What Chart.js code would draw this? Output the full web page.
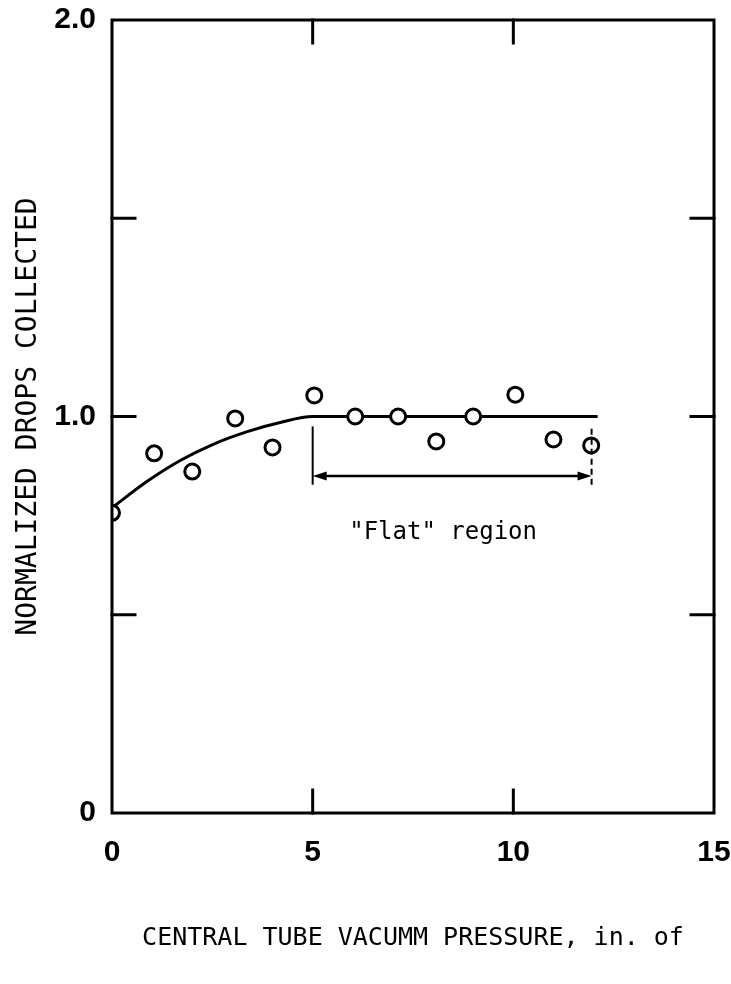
<!DOCTYPE html>
<html><head><meta charset="utf-8">
<script src="https://cdn.jsdelivr.net/npm/chart.js@4/dist/chart.umd.min.js"></script>
<style>html,body{margin:0;padding:0;background:#fff}#wrap{width:731px;height:984px}</style>
</head><body><div id="wrap"><canvas id="c" width="731" height="984"></canvas></div>
<script>
// measured data points
const pressureX = [0, 1.05, 2.0, 3.07, 4.0, 5.04, 6.06, 7.13, 8.08, 9.0, 10.05, 11.0, 11.94];
const dropsY    = [0.757, 0.907, 0.861, 0.995, 0.922, 1.053, 1.0, 1.0, 0.937, 1.0, 1.055, 0.942, 0.927];
// hand-drawn trend curve
const fitX = [0, 0.87, 1.7, 2.52, 3.37, 4.19, 5.0, 12.1];
const fitY = [0.77, 0.836, 0.889, 0.93, 0.962, 0.985, 1.0, 1.0];
// tick labels
const xTickLabels = {0: '0', 5: '5', 10: '10', 15: '15'};
const yTickLabels = {0: '0', 1: '1.0', 2: '2.0'};
const xInnerTicks = [5, 10];
const yInnerTicks = [0.5, 1.0, 1.5];
// "Flat" region annotation
const flatRange = [5, 11.95];
const flatArrowY = 0.85;
const flatBarY = [0.828, 0.975];
const flatLabel = '"Flat" region';
const flatLabelAt = [8.25, 0.707];
const xTitle = 'CENTRAL TUBE VACUMM PRESSURE, in. of';
const yTitle = 'NORMALIZED DROPS COLLECTED';

const pts = pressureX.map((v, i) => ({x: v, y: dropsY[i]}));
const fit = fitX.map((v, i) => ({x: v, y: fitY[i]}));

const decor = {
  id: 'decor',
  afterDatasetsDraw(chart) {
    const {ctx, chartArea: a, scales: {x, y}} = chart;
    const seg = (x1, y1, x2, y2) => { ctx.beginPath(); ctx.moveTo(x1, y1); ctx.lineTo(x2, y2); ctx.stroke(); };
    ctx.save();
    ctx.strokeStyle = '#000'; ctx.fillStyle = '#000';
    ctx.lineWidth = 3; ctx.lineCap = 'square';
    ctx.strokeRect(a.left, a.top, a.right - a.left, a.bottom - a.top);
    const tl = 23;
    xInnerTicks.forEach(v => { const p = x.getPixelForValue(v); seg(p, a.bottom, p, a.bottom - tl); seg(p, a.top, p, a.top + tl); });
    yInnerTicks.forEach(v => { const p = y.getPixelForValue(v); seg(a.left, p, a.left + tl, p); seg(a.right, p, a.right - tl, p); });
    // annotation
    ctx.lineWidth = 2; ctx.lineCap = 'butt';
    const x1 = x.getPixelForValue(flatRange[0]), x2 = x.getPixelForValue(flatRange[1]);
    const ya = y.getPixelForValue(flatArrowY);
    const yb1 = y.getPixelForValue(flatBarY[0]), yb2 = y.getPixelForValue(flatBarY[1]);
    seg(x1, yb1, x1, yb2);
    ctx.setLineDash([6, 4]);
    seg(x2, yb1, x2, yb2);
    ctx.setLineDash([]);
    ctx.lineWidth = 2.5;
    seg(x1 + 8, ya, x2 - 8, ya);
    ctx.beginPath(); ctx.moveTo(x1, ya); ctx.lineTo(x1 + 14, ya - 4.5); ctx.lineTo(x1 + 14, ya + 4.5); ctx.closePath(); ctx.fill();
    ctx.beginPath(); ctx.moveTo(x2, ya); ctx.lineTo(x2 - 14, ya - 4.5); ctx.lineTo(x2 - 14, ya + 4.5); ctx.closePath(); ctx.fill();
    ctx.font = '24px "DejaVu Sans Mono"';
    ctx.textAlign = 'center'; ctx.textBaseline = 'middle';
    ctx.fillText(flatLabel, x.getPixelForValue(flatLabelAt[0]), y.getPixelForValue(flatLabelAt[1]));
    ctx.restore();
  }
};

new Chart(document.getElementById('c'), {
  type: 'scatter',
  data: {
    datasets: [
      {
        label: 'Measured', data: pts, showLine: false,
        pointStyle: 'circle', pointRadius: 7.5, pointBorderWidth: 3,
        pointBorderColor: '#000', pointBackgroundColor: '#fff'
      },
      {
        label: 'Trend', data: fit, showLine: true, pointRadius: 0,
        borderColor: '#000', borderWidth: 3, cubicInterpolationMode: 'monotone', fill: false
      }
    ]
  },
  options: {
    responsive: false, animation: false, devicePixelRatio: 1,
    layout: {padding: {top: 20, right: 17, left: 0, bottom: 0}},
    plugins: {legend: {display: false}, tooltip: {enabled: false}},
    scales: {
      x: {
        type: 'linear', min: 0, max: 15,
        afterFit: s => { s.height = 171; s.paddingLeft = 0; s.paddingRight = 0; },
        grid: {display: false, drawTicks: false}, border: {display: false},
        ticks: {stepSize: 5, padding: 22, color: '#000', font: {family: 'Liberation Sans', size: 30, weight: 'bold'},
          callback: v => xTickLabels[v] ?? ''},
        title: {display: true, text: xTitle, color: '#000', font: {family: 'DejaVu Sans Mono', size: 25}, padding: {bottom: 31}}
      },
      y: {
        type: 'linear', min: 0, max: 2,
        afterFit: s => { s.width = 112; s.paddingTop = 0; s.paddingBottom = 0; },
        grid: {display: false, drawTicks: false}, border: {display: false},
        ticks: {stepSize: 0.5, padding: 16, color: '#000', font: {family: 'Liberation Sans', size: 30, weight: 'bold'},
          callback: v => yTickLabels[v] ?? ''},
        title: {display: true, text: yTitle, color: '#000', font: {family: 'DejaVu Sans Mono', size: 28}, padding: {top: 12}}
      }
    }
  },
  plugins: [decor]
});
</script></body></html>
